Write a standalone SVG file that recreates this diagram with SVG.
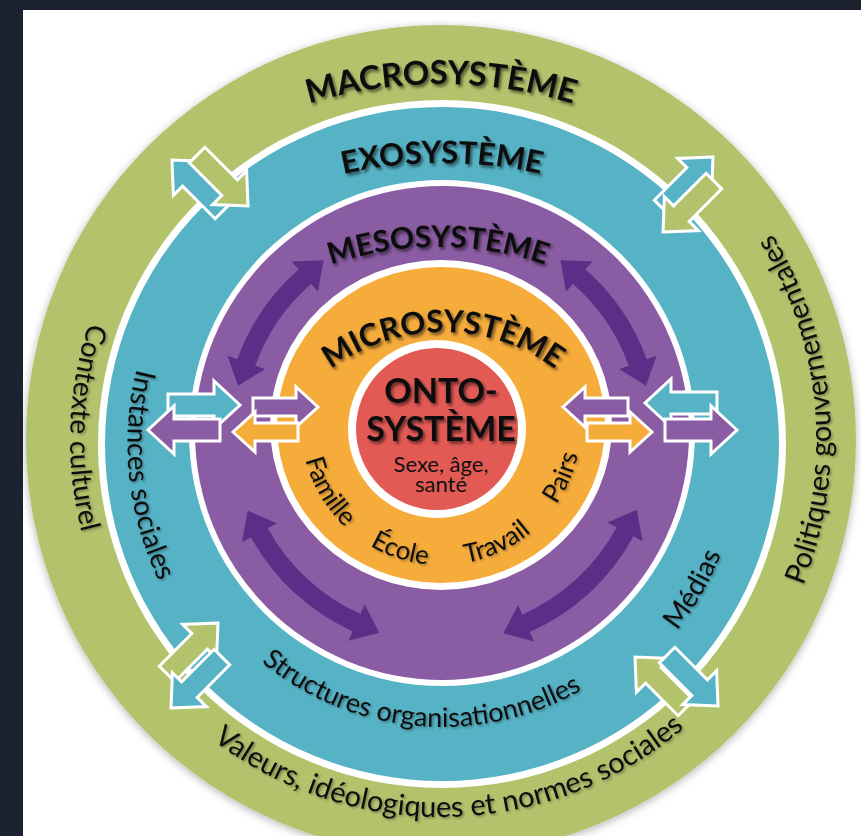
<svg xmlns="http://www.w3.org/2000/svg" width="861" height="836" viewBox="0 0 861 836">
<defs>
<style>
.title{font-family:Lato,'Open Sans','Liberation Sans',sans-serif;font-weight:700;fill:#111;filter:url(#sh)}
.lbl{font-family:Lato,'Open Sans','Liberation Sans',sans-serif;font-weight:400;fill:#111;filter:url(#sh2)}
.ar{stroke:#fff;stroke-width:3;stroke-linejoin:miter}
.curv{fill:none;stroke:#5b2f87;stroke-width:19}
</style>
<filter id="sh" x="-10%" y="-30%" width="130%" height="170%"><feDropShadow dx="2" dy="2.5" stdDeviation="1.6" flood-color="#000" flood-opacity="0.55"/></filter>
<filter id="sh2" x="-10%" y="-30%" width="130%" height="170%"><feDropShadow dx="1.5" dy="1.5" stdDeviation="1.2" flood-color="#000" flood-opacity="0.35"/></filter>
<filter id="outer" x="-10%" y="-10%" width="120%" height="120%"><feDropShadow dx="0" dy="2" stdDeviation="4" flood-color="#000" flood-opacity="0.3"/></filter>
<path id="aO" class="ar" d="M0,0 L-26,-24 L-26,-11 L-72,-11 L-72,11 L-26,11 L-26,24 Z"/>
<path id="aI" class="ar" d="M0,0 L-22,-20 L-22,-9 L-65,-9 L-65,9 L-22,9 L-22,20 Z"/>
<marker id="hd" viewBox="0 0 25 40" refX="1" refY="20" markerWidth="25" markerHeight="40" markerUnits="userSpaceOnUse" orient="auto-start-reverse"><path d="M0,0 L25,20 L0,40 Z" fill="#5b2f87"/></marker>
<path id="pMacro" d="M-9,534 A450,450 0 0 1 891,534"/>
<path id="pExo" d="M-8,613 A450,450 0 0 1 892,613"/>
<path id="pMeso" d="M107,578 A331,331 0 0 1 769,578"/>
<path id="pMicro" d="M255,520 A188,188 0 0 1 631,520"/>
<path id="pCult" d="M212,146.8 A374,374 0 0 0 192.1,716.4"/>
<path id="pInst" d="M216.1,225.9 A313,313 0 0 0 266.4,704.3"/>
<path id="pPol" d="M716.8,715.8 A390,390 0 0 0 664.7,120.5"/>
<path id="pMed" d="M544.6,725.9 A300,300 0 0 0 737.4,391.9"/>
<path id="pStruct" d="M176.1,540.8 A283,283 0 0 0 687.1,585.5"/>
<path id="pVal" d="M86.7,568.9 A377,377 0 0 0 801.5,550.2"/>
<path id="pMicroB" d="M301,425 A140,140 0 0 0 581,425"/>
</defs>
<rect x="0" y="0" width="861" height="836" fill="#1d2231"/>
<rect x="23" y="10" width="838" height="826" fill="#ffffff"/>

<g id="macrosysteme">
<circle cx="441" cy="440" r="415" fill="#b3c36c" filter="url(#outer)"/>
<circle cx="442" cy="444" r="344" fill="#ffffff"/>
<text class="title" font-size="33"><textPath href="#pMacro" startOffset="50%" text-anchor="middle">MACROSYSTÈME</textPath></text>
<text class="lbl" font-size="28"><textPath href="#pCult" startOffset="50%" text-anchor="middle">Contexte culturel</textPath></text>
<text class="lbl" font-size="29"><textPath href="#pPol" startOffset="50%" text-anchor="middle">Politiques gouvernementales</textPath></text>
<text class="lbl" font-size="29"><textPath href="#pVal" startOffset="50%" text-anchor="middle">Valeurs, idéologiques et normes sociales</textPath></text>
</g>

<g id="exosysteme">
<circle cx="442" cy="444" r="337" fill="#56b3c6"/>
<circle cx="442" cy="433" r="253" fill="#ffffff"/>
<text class="title" font-size="31"><textPath href="#pExo" startOffset="50%" text-anchor="middle">EXOSYSTÈME</textPath></text>
<text class="lbl" font-size="28"><textPath href="#pInst" startOffset="50%" text-anchor="middle">Instances sociales</textPath></text>
<text class="lbl" font-size="28"><textPath href="#pMed" startOffset="50%" text-anchor="middle">Médias</textPath></text>
<text class="lbl" font-size="27"><textPath href="#pStruct" startOffset="50%" text-anchor="middle">Structures organisationnelles</textPath></text>
</g>

<g id="mesosysteme">
<circle cx="442" cy="433" r="247" fill="#8a5ca3"/>
<ellipse cx="441" cy="425" rx="171" ry="165" fill="#ffffff"/>
<text class="title" font-size="30"><textPath href="#pMeso" startOffset="50%" text-anchor="middle">MESOSYSTÈME</textPath></text>
</g>

<g id="microsysteme">
<ellipse cx="441" cy="425" rx="164" ry="158" fill="#f6ac3b"/>
<circle cx="437" cy="429" r="89" fill="#ffffff"/>
<text class="title" font-size="31"><textPath href="#pMicro" startOffset="50%" text-anchor="middle">MICROSYSTÈME</textPath></text>
<text class="lbl" font-size="26"><textPath href="#pMicroB" startOffset="17%" text-anchor="middle">Famille</textPath></text>
<text class="lbl" font-size="26"><textPath href="#pMicroB" startOffset="40%" text-anchor="middle">École</textPath></text>
<text class="lbl" font-size="26"><textPath href="#pMicroB" startOffset="64%" text-anchor="middle">Travail</textPath></text>
<text class="lbl" font-size="26"><textPath href="#pMicroB" startOffset="87%" text-anchor="middle">Pairs</textPath></text>
</g>

<g id="ontosysteme">
<circle cx="437" cy="429" r="81" fill="#e35a55"/>
<text class="title" font-size="34" x="441" y="403" text-anchor="middle">ONTO-</text>
<text class="title" font-size="34" x="441" y="441" text-anchor="middle">SYSTÈME</text>
<text class="lbl" font-size="22" x="441" y="472" text-anchor="middle" style="filter:none">Sexe, âge,</text>
<text class="lbl" font-size="22" x="441" y="492" text-anchor="middle" style="filter:none">santé</text>
</g>

<g id="connectors">
<path class="curv" d="M246,363.2 A208,208 0 0 1 305.5,276" marker-start="url(#hd)" marker-end="url(#hd)"/>
<path class="curv" d="M578.5,276 A208,208 0 0 1 638,363.2" marker-start="url(#hd)" marker-end="url(#hd)"/>
<path class="curv" d="M259,531.9 A208,208 0 0 0 357.4,623" marker-start="url(#hd)" marker-end="url(#hd)"/>
<path class="curv" d="M625.5,531 A208,208 0 0 1 525.3,623.6" marker-start="url(#hd)" marker-end="url(#hd)"/>

<use href="#aO" fill="#56b3c6" transform="translate(240,405) rotate(0)"/>
<use href="#aO" fill="#8a5ca3" transform="translate(148,430) rotate(180)"/>
<use href="#aO" fill="#56b3c6" transform="translate(645,403) rotate(180)"/>
<use href="#aO" fill="#8a5ca3" transform="translate(737,430) rotate(0)"/>

<use href="#aO" fill="#56b3c6" transform="translate(172,160) rotate(225)"/>
<use href="#aO" fill="#b3c36c" transform="translate(248,206) rotate(45)"/>
<use href="#aO" fill="#56b3c6" transform="translate(713,157) rotate(-45)"/>
<use href="#aO" fill="#b3c36c" transform="translate(663,232) rotate(135)"/>
<use href="#aO" fill="#b3c36c" transform="translate(218,623) rotate(-45)"/>
<use href="#aO" fill="#56b3c6" transform="translate(171,708) rotate(135)"/>
<use href="#aO" fill="#b3c36c" transform="translate(635,657) rotate(225)"/>
<use href="#aO" fill="#56b3c6" transform="translate(718,706) rotate(45)"/>

<use href="#aI" fill="#8a5ca3" transform="translate(318,407) rotate(0)"/>
<use href="#aI" fill="#f6ac3b" transform="translate(233,432) rotate(180)"/>
<use href="#aI" fill="#8a5ca3" transform="translate(563,407) rotate(180)"/>
<use href="#aI" fill="#f6ac3b" transform="translate(652,432) rotate(0)"/>
</g>
</svg>
